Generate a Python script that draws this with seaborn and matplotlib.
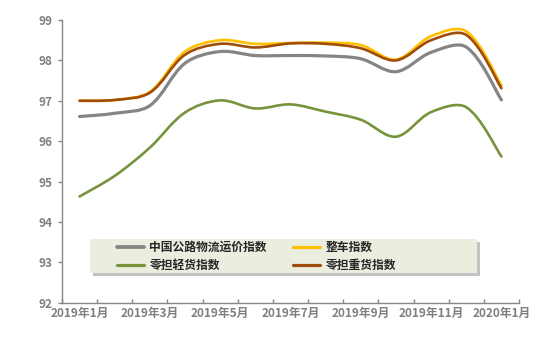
import numpy as np
import pandas as pd
import matplotlib
matplotlib.use("Agg")
import matplotlib.pyplot as plt
from matplotlib.path import Path
from matplotlib.patches import PathPatch, Rectangle
from matplotlib.lines import Line2D
import seaborn as sns

# ---------------- data ----------------
months = ["2019年1月", "2019年2月", "2019年3月", "2019年4月", "2019年5月", "2019年6月",
          "2019年7月", "2019年8月", "2019年9月", "2019年10月", "2019年11月", "2019年12月",
          "2020年1月"]
series_names = ["中国公路物流运价指数", "整车指数", "零担轻货指数", "零担重货指数"]
overall = [96.61, 96.69, 96.88, 97.93, 98.22, 98.12, 98.12, 98.11, 98.04, 97.72, 98.20, 98.33, 97.02]
ftl = [97.00, 97.02, 97.22, 98.22, 98.50, 98.41, 98.43, 98.44, 98.38, 98.02, 98.60, 98.72, 97.38]
ltl_light = [94.63, 95.14, 95.84, 96.71, 97.01, 96.81, 96.91, 96.73, 96.53, 96.11, 96.72, 96.84, 95.62]
ltl_heavy = [97.00, 97.02, 97.20, 98.14, 98.41, 98.32, 98.42, 98.41, 98.30, 98.00, 98.50, 98.63, 97.31]
yticks = [92, 93, 94, 95, 96, 97, 98, 99]

colors = ["#858585", "#FFC000", "#77933C", "#A04D0A"]
widths = [2.3, 1.9, 1.9, 1.9]

sns.set_style("white")
plt.rcParams['font.family'] = ['Noto Sans CJK SC', 'DejaVu Sans']
plt.rcParams['font.weight'] = 'bold'

fig = plt.figure(figsize=(5.48, 3.42), dpi=100)
ax = fig.add_axes([0.1131, 0.115, 0.834, 0.8265])

x = np.arange(len(months))
df = pd.DataFrame({
    "x": np.tile(x, 4),
    "value": overall + ftl + ltl_light + ltl_heavy,
    "series": np.repeat(series_names, len(months)),
})
sns.lineplot(data=df, x="x", y="value", hue="series", hue_order=series_names,
             palette=colors, ax=ax, legend=False, sort=False)

# Replace straight segments with smooth (spreadsheet-like) Bezier curves
SX, SY = 35.1, 40.4  # approx pixels per data unit, for chord lengths


def smooth_path(xs, ys):
    pts = np.column_stack([xs, ys])
    n = len(pts)

    def dist(a, b):
        return np.hypot((a[0] - b[0]) * SX, (a[1] - b[1]) * SY)

    verts = [pts[0]]
    codes = [Path.MOVETO]
    for i in range(n - 1):
        p0 = pts[i - 1] if i > 0 else pts[i]
        p1 = pts[i]
        p2 = pts[i + 1]
        p3 = pts[i + 2] if i + 2 < n else pts[i + 1]
        d01 = dist(p0, p1)
        d12 = dist(p1, p2)
        d23 = dist(p2, p3)
        f1 = d12 / (d01 + d12) / 3.0 if d01 > 0 else 1.0 / 6.0
        f2 = d12 / (d12 + d23) / 3.0 if d23 > 0 else 1.0 / 6.0
        c1 = p1 + (p2 - p0) * f1
        c2 = p2 - (p3 - p1) * f2
        verts += [c1, c2, p2]
        codes += [Path.CURVE4] * 3
    return Path(verts, codes)


for i, line in enumerate(list(ax.lines)):
    xs, ys = line.get_xdata(), line.get_ydata()
    line.set_visible(False)
    patch = PathPatch(smooth_path(np.asarray(xs, float), np.asarray(ys, float)),
                      facecolor="none", edgecolor=colors[i], lw=widths[i],
                      capstyle="round", joinstyle="round", zorder=3 + i)
    ax.add_patch(patch)

ax.set_xlim(-0.5, 12.5)
ax.set_ylim(92, 99)
ax.set_xlabel("")
ax.set_ylabel("")

# spines
for s in ["top", "right"]:
    ax.spines[s].set_visible(False)
for s in ["left", "bottom"]:
    ax.spines[s].set_color("#868686")
    ax.spines[s].set_linewidth(1.0)

# y ticks
ax.set_yticks(yticks)
ax.set_yticklabels([str(v) for v in yticks])
ax.tick_params(axis="y", direction="out", length=3, width=1, color="#868686",
               labelsize=8.5, labelcolor="#7F7F7F", pad=4, left=True)

# x ticks: boundaries as major ticks (inward), labels as minor ticks
ax.set_xticks(np.arange(-0.5, 13.0, 1.0))
ax.set_xticklabels([])
ax.set_xticks(x[::2], minor=True)
ax.set_xticklabels(months[::2], minor=True)
ax.tick_params(axis="x", which="major", direction="in", length=3, width=1,
               color="#868686", bottom=True)
ax.tick_params(axis="x", which="minor", length=0, labelsize=8.5,
               labelcolor="#7F7F7F", pad=3)
for lbl in ax.get_xticklabels(minor=True) + ax.get_yticklabels():
    lbl.set_fontweight("bold")

ax.grid(False)

# legend background with shadow
bx0, by0, bw, bh = 0.0613, 0.104, 0.847, 0.120
shadow = Rectangle((bx0 + 0.006, by0 - 0.010), bw, bh, transform=ax.transAxes,
                   facecolor="#9a9a9a", edgecolor="none", alpha=0.6, zorder=1)
ax.add_patch(shadow)
bg = Rectangle((bx0, by0), bw, bh, transform=ax.transAxes,
               facecolor="#EBEEDF", edgecolor="none", zorder=2)
ax.add_patch(bg)

handles = [Line2D([0], [0], color=colors[i], lw=widths[i] + 0.4) for i in range(4)]
leg_handles = [handles[0], handles[2], handles[1], handles[3]]
leg_labels = [series_names[0], series_names[2], series_names[1], series_names[3]]
leg = ax.legend(leg_handles, leg_labels, ncol=2, loc="upper left",
                bbox_to_anchor=(0.1204, 0.218), frameon=False, borderpad=0,
                borderaxespad=0, handlelength=2.3, handletextpad=0.45,
                columnspacing=2.2, labelspacing=0.45,
                prop={"size": 8.5, "weight": "bold",
                      "family": ["Noto Sans CJK SC", "DejaVu Sans"]})
leg.set_zorder(10)

fig.savefig("out.png", dpi=100)
